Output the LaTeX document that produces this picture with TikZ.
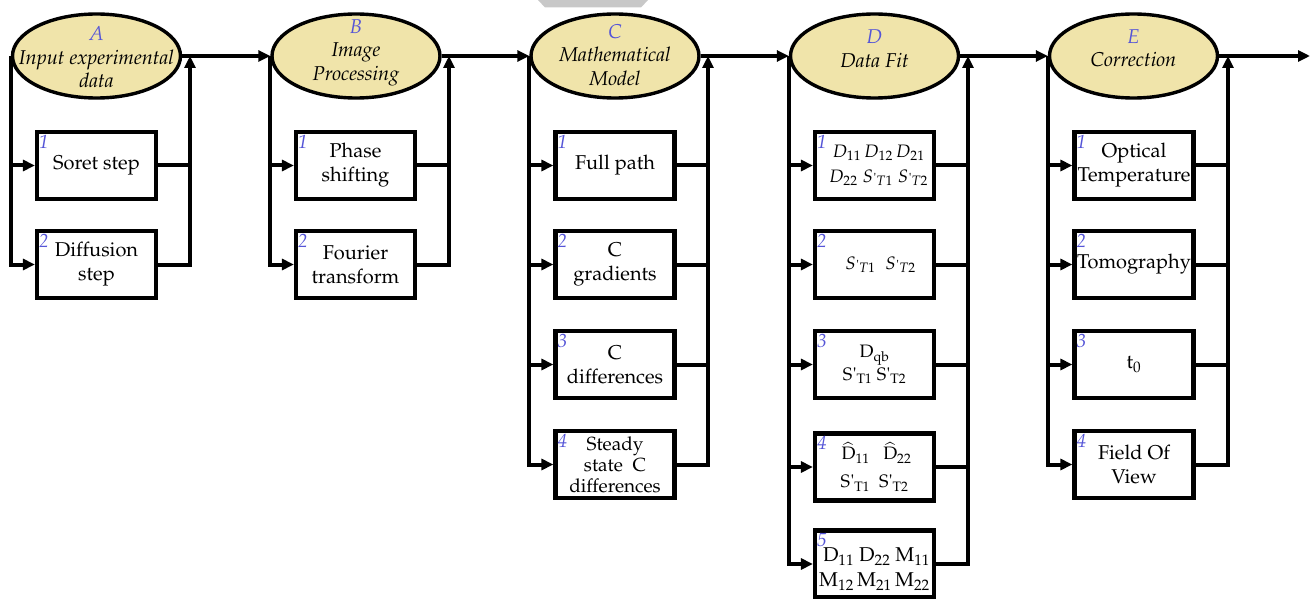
\documentclass[tikz,border=0pt]{standalone}
\usepackage[T1]{fontenc}
\usepackage{mathpazo}
\usetikzlibrary{shapes.geometric,arrows.meta,calc}
\definecolor{khaki}{RGB}{240,228,170}
\definecolor{numblue}{RGB}{85,85,215}
\definecolor{tabgray}{RGB}{200,200,200}
\tikzset{
  stage/.style={ellipse, draw, line width=3.4pt, fill=khaki, minimum width=168pt, minimum height=84pt, inner sep=0pt},
  stagetext/.style={inner sep=0pt, align=center, font=\itshape\fontsize{20}{23.5}\selectfont},
  subbox/.style={draw, line width=4.2pt, minimum width=119pt, minimum height=67pt, inner sep=0pt, align=center, font=\fontsize{20}{24}\selectfont},
  nl/.style={anchor=north west, inner sep=0pt, text=numblue, font=\itshape\fontsize{19}{19}\selectfont, xshift=4pt, yshift=-5pt},
  bus/.style={line width=4pt, line join=miter},
  mainline/.style={line width=3.4pt},
  tip/.style={-{Triangle[length=12pt,width=11pt]}},
}
\newcommand{\stg}[1]{{\color{numblue}#1}}
\newcommand{\Sp}{S\kern0.5pt\mbox{\upshape\fontsize{13}{13}\selectfont\textquotesingle}}
\newcommand{\Sq}{S\kern0.5pt\textquotesingle}
\begin{document}
\begin{tikzpicture}[x=1pt,y=-1pt]
\useasboundingbox (0,0) rectangle (1310,599);
\fill[tabgray] (538,0) -- (648,0) -- (641,7.5) -- (545,7.5) -- cycle;

% stages
\node[stage] (A) at (96.5,56) {};
\node[stage] (B) at (356,56) {};
\node[stage] (C) at (615,56) {};
\node[stage] (D) at (874.5,56) {};
\node[stage] (E) at (1133.5,56) {};
\node[stagetext] (At) at (96.5,57.5) {\stg{A}\\Input experimental\\data};
\node[stagetext] (Bt) at (356,52.5) {\stg{B}\\Image\\Processing};
\node[stagetext] (Ct) at (615,55) {\stg{C}\\Mathematical\\Model};
\node[stagetext] (Dt) at (874.5,48.5) {\stg{D}\\Data Fit};
\node[stagetext] (Et) at (1133.5,48) {\stg{E}\\Correction};
\coordinate (end) at (1310,56);

% bus coordinates
\coordinate (rA) at (190,56);
\coordinate (rB) at (449,56);
\coordinate (rC) at (708,56);
\coordinate (rD) at (968,56);
\coordinate (rE) at (1228,56);

% boxes A
\node[subbox, label={[nl]north west:1}] (A1) at (96.5,165.5) {Soret step};
\node[subbox, label={[nl]north west:2}] (A2) at (96.5,264.5) {Diffusion\\step};
% boxes B
\node[subbox, label={[nl]north west:1}] (B1) at (355.5,165.5) {Phase\\shifting};
\node[subbox, label={[nl]north west:2}] (B2) at (355.5,264.5) {Fourier\\transform};
% boxes C
\node[subbox, label={[nl]north west:1}] (C1) at (615,165.5) {Full path};
\node[subbox, label={[nl]north west:2}] (C2) at (615,264.5) {C\\gradients};
\node[subbox, label={[nl]north west:3}] (C3) at (615,364.5) {C\\differences};
\node[subbox, label={[nl]north west:4}, font=\fontsize{19}{21}\selectfont] (C4) at (615,464.5) {Steady\\state~~C\\differences};
% boxes D
\node[subbox, label={[nl]north west:1}, font=\fontsize{18}{25}\selectfont] (D1) at (874.5,165.5) {\hspace*{8pt}$D_{11}\,D_{12}\,D_{21}$\\\hspace*{8pt}$D_{22}\;\Sp_{T1}\;\Sp_{T2}$};
\node[subbox, label={[nl]north west:2}, font=\fontsize{18}{24}\selectfont] (D2) at (874.5,264.5) {\hspace*{12pt}$\Sp_{T1}\;\;\Sp_{T2}$};
\node[subbox, label={[nl]north west:3}, font=\fontsize{18}{23}\selectfont] (D3) at (874.5,364.5) {D\textsubscript{qb}\\\Sq\textsubscript{T1}~\Sq\textsubscript{T2}};
\node[subbox, label={[nl]north west:4}, font=\fontsize{18}{28}\selectfont] (D4) at (874.5,467) {\hspace*{4pt}$\widehat{\mathrm{D}}_{11}$~~~$\widehat{\mathrm{D}}_{22}$\\\Sq\textsubscript{T1}~~\Sq\textsubscript{T2}};
\node[subbox, label={[nl]north west:5}, font=\fontsize{20}{25}\selectfont] (D5) at (874.5,564) {\rule{0pt}{24pt}\hspace*{4pt}D\textsubscript{11}~D\textsubscript{22}~M\textsubscript{11}\\M\textsubscript{12}\,M\textsubscript{21}\,M\textsubscript{22}};
% boxes E
\node[subbox, label={[nl]north west:1}] (E1) at (1134,165.5) {Optical\\Temperature};
\node[subbox, label={[nl]north west:2}] (E2) at (1134,264.5) {Tomography};
\node[subbox, label={[nl]north west:3}] (E3) at (1134,364.5) {t\textsubscript{0}};
\node[subbox, label={[nl]north west:4}] (E4) at (1134,464.5) {Field Of\\View};

% main flow
\draw[mainline,tip] (A.east) -- (B.west);
\draw[mainline,tip] (B.east) -- (C.west);
\draw[mainline,tip] (C.east) -- (D.west);
\draw[mainline,tip] (D.east) -- (E.west);
\draw[mainline,tip] (E.east) -- (end);

% A buses
\draw[bus,tip] (A.west) |- (A2.west);
\draw[bus,tip] (A.west |- A1.west) -- (A1.west);
\draw[bus,tip] (A2.east) -| (rA);
\draw[bus] (A1.east) -- (A1.east -| rA);
% B buses
\draw[bus,tip] (B.west) |- (B2.west);
\draw[bus,tip] (B.west |- B1.west) -- (B1.west);
\draw[bus,tip] (B2.east) -| (rB);
\draw[bus] (B1.east) -- (B1.east -| rB);
% C buses
\draw[bus,tip] (C.west) |- (C4.west);
\foreach \n in {1,2,3} \draw[bus,tip] (C.west |- C\n.west) -- (C\n.west);
\draw[bus,tip] (C4.east) -| (rC);
\foreach \n in {1,2,3} \draw[bus] (C\n.east) -- (C\n.east -| rC);
% D buses
\draw[bus,tip] (D.west) |- (D5.west);
\foreach \n in {1,2,3,4} \draw[bus,tip] (D.west |- D\n.west) -- (D\n.west);
\draw[bus,tip] (D5.east) -| (rD);
\foreach \n in {1,2,3,4} \draw[bus] (D\n.east) -- (D\n.east -| rD);
% E buses
\draw[bus,tip] (E.west) |- (E4.west);
\foreach \n in {1,2,3} \draw[bus,tip] (E.west |- E\n.west) -- (E\n.west);
\draw[bus,tip] (E4.east) -| (rE);
\foreach \n in {1,2,3} \draw[bus] (E\n.east) -- (E\n.east -| rE);
\end{tikzpicture}
\end{document}
